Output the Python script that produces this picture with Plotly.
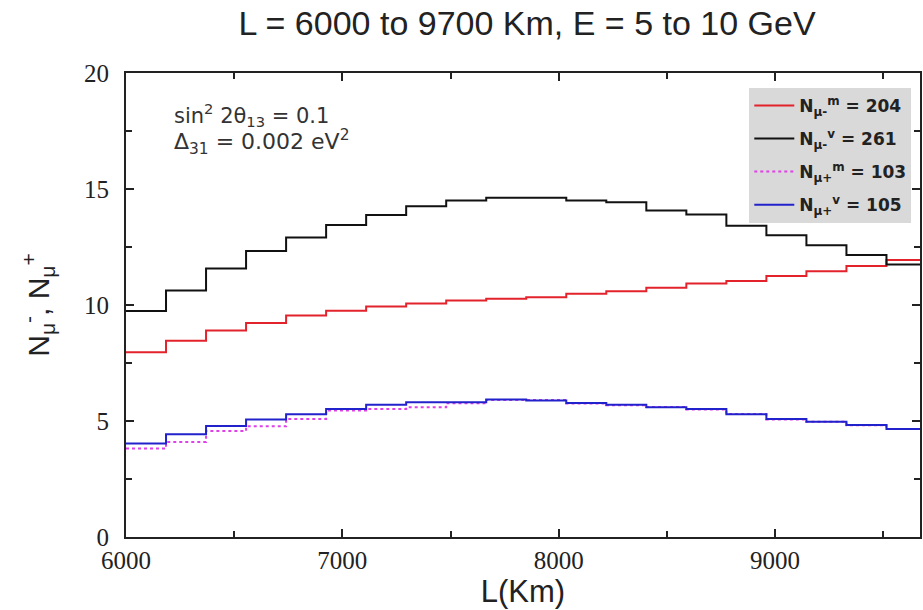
import plotly.graph_objects as go

bin_edges = [6000, 6185, 6370, 6555, 6740, 6925, 7110, 7295, 7480, 7665,
             7850, 8035, 8220, 8405, 8590, 8775, 8960, 9145, 9330, 9515, 9700]

n_mu_minus_matter = [7.96, 8.46, 8.90, 9.22, 9.55, 9.75, 9.93, 10.06, 10.19, 10.27,
                     10.33, 10.48, 10.59, 10.74, 10.93, 11.03, 11.25, 11.46, 11.68, 11.94]
n_mu_minus_vacuum = [9.74, 10.62, 11.57, 12.33, 12.91, 13.45, 13.88, 14.26, 14.50, 14.62,
                     14.62, 14.50, 14.43, 14.07, 13.90, 13.42, 13.01, 12.58, 12.16, 11.75]
n_mu_plus_matter = [3.81, 4.10, 4.57, 4.77, 5.09, 5.45, 5.52, 5.59, 5.77, 5.91,
                    5.90, 5.75, 5.68, 5.60, 5.50, 5.30, 5.07, 4.97, 4.82, 4.65]
n_mu_plus_vacuum = [4.03, 4.43, 4.78, 5.06, 5.29, 5.52, 5.70, 5.81, 5.81, 5.93,
                    5.88, 5.78, 5.70, 5.59, 5.52, 5.29, 5.09, 4.97, 4.83, 4.65]

series_names = ["<b>N<sub>μ-</sub><sup>m</sup> = 204</b>",
                "<b>N<sub>μ-</sub><sup>v</sup> = 261</b>",
                "<b>N<sub>μ+</sub><sup>m</sup> = 103</b>",
                "<b>N<sub>μ+</sub><sup>v</sup> = 105</b>"]
series_vals = [n_mu_minus_matter, n_mu_minus_vacuum, n_mu_plus_matter, n_mu_plus_vacuum]
series_colors = ["#e3232b", "#111111", "#e040e8", "#2222cc"]
series_dash = ["solid", "solid", "dot", "solid"]

fig = go.Figure()
for i, (name, vals, col, dash) in enumerate(zip(series_names, series_vals, series_colors, series_dash)):
    fig.add_trace(go.Scatter(
        x=bin_edges, y=vals + [vals[-1]], mode="lines", line_shape="hv",
        name=name, legendgroup=str(i), line=dict(color=col, width=2, dash=dash)))

tick_font = dict(family="Liberation Serif", size=25, color="#222")
fig.update_layout(
    width=923, height=610,
    margin=dict(l=126, r=1, t=73, b=73),
    paper_bgcolor="white", plot_bgcolor="white",
    title=dict(text="L = 6000 to 9700 Km, E = 5 to 10 GeV", x=0.571, xanchor="center",
               xref="container", yref="container", y=0.962, yanchor="middle",
               font=dict(family="Liberation Sans", size=34, color="#222")),
    showlegend=True,
    legend=dict(x=0.785, y=0.968, xanchor="left", yanchor="top",
                bgcolor="#d9d9d9", borderwidth=0,
                font=dict(family="DejaVu Sans", size=17, color="#222"),
                itemwidth=40, tracegroupgap=8),
)
fig.update_xaxes(range=[6000, 9670], tickvals=[6000, 7000, 8000, 9000],
                 ticks="inside", ticklen=8, tickwidth=2, tickcolor="#222",
                 minor=dict(tickvals=[6500, 7500, 8500, 9500], ticks="inside", ticklen=6,
                            tickwidth=2, tickcolor="#222"),
                 showline=True, linecolor="#222", linewidth=2, mirror="ticks",
                 showgrid=False, zeroline=False, tickfont=tick_font,
                 title=dict(text="L(Km)", font=dict(family="Liberation Sans", size=31, color="#222"),
                            standoff=4))
fig.update_yaxes(range=[0, 20], tickvals=[0, 5, 10, 15, 20],
                 ticks="inside", ticklen=8, tickwidth=2, tickcolor="#222",
                 minor=dict(tickvals=[2.5, 7.5, 12.5, 17.5], ticks="inside", ticklen=6,
                            tickwidth=2, tickcolor="#222"),
                 showline=True, linecolor="#222", linewidth=2, mirror="ticks",
                 showgrid=False, zeroline=False, tickfont=tick_font, ticklabelstandoff=10,
                 title=dict(text="N<sub>μ</sub><sup>-</sup>, N<sub>μ</sub><sup>+</sup>",
                            font=dict(family="Liberation Sans", size=30, color="#222"),
                            standoff=26))
fig.add_annotation(text="sin<sup>2</sup> 2θ<sub>13</sub> = 0.1", xref="paper", yref="paper",
                   x=0.058, y=0.909, xanchor="left", yanchor="middle", showarrow=False,
                   font=dict(family="DejaVu Sans", size=21, color="#333"))
fig.add_annotation(text="Δ<sub>31</sub> = 0.002 eV<sup>2</sup>", xref="paper", yref="paper",
                   x=0.058, y=0.851, xanchor="left", yanchor="middle", showarrow=False,
                   font=dict(family="DejaVu Sans", size=22, color="#333"))

fig.write_html("out.html", config={"displayModeBar": False},
               post_script="document.body.style.margin='0';document.body.style.overflow='hidden';")
